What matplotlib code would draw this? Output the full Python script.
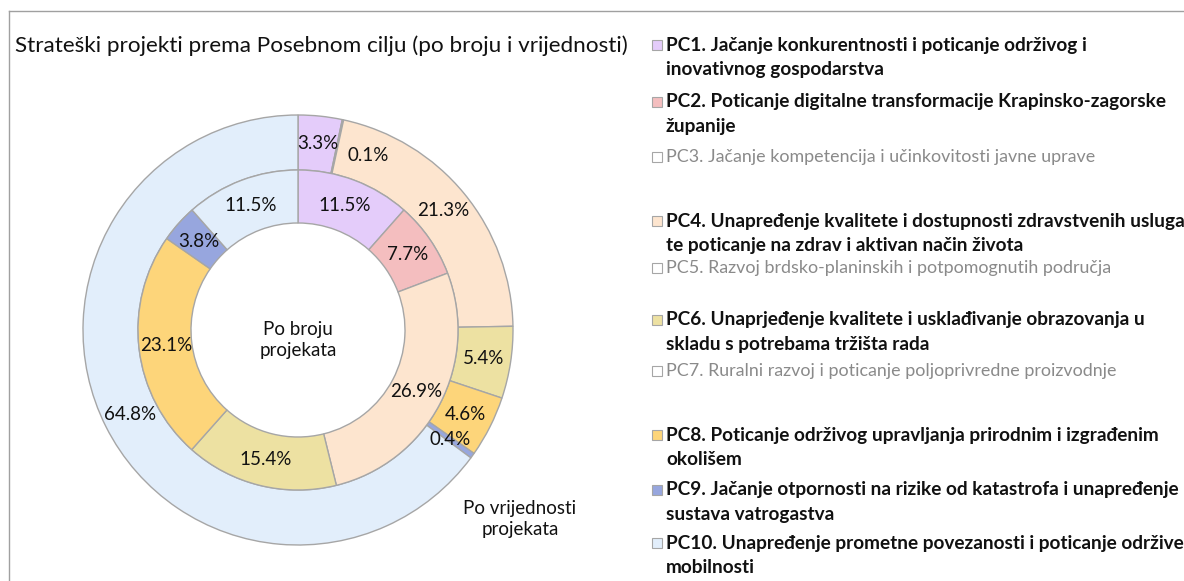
import numpy as np
import matplotlib
matplotlib.use("Agg")
import matplotlib.pyplot as plt
from matplotlib.patches import Rectangle
from matplotlib.lines import Line2D

# data
ring_codes = ['PC1', 'PC2', 'PC4', 'PC6', 'PC8', 'PC9', 'PC10']
by_count = [11.5, 7.7, 26.9, 15.4, 23.1, 3.8, 11.5]
by_value = [3.3, 0.1, 21.3, 5.4, 4.6, 0.4, 64.8]

legend_codes = ['PC1', 'PC2', 'PC3', 'PC4', 'PC5', 'PC6', 'PC7', 'PC8', 'PC9', 'PC10']
legend_labels = [
    'PC1. Jačanje konkurentnosti i poticanje održivog i\ninovativnog gospodarstva',
    'PC2. Poticanje digitalne transformacije Krapinsko-zagorske\nžupanije',
    'PC3. Jačanje kompetencija i učinkovitosti javne uprave',
    'PC4. Unapređenje kvalitete i dostupnosti zdravstvenih usluga\nte poticanje na zdrav i aktivan način života',
    'PC5. Razvoj brdsko-planinskih i potpomognutih područja',
    'PC6. Unaprjeđenje kvalitete i usklađivanje obrazovanja u\nskladu s potrebama tržišta rada',
    'PC7. Ruralni razvoj i poticanje poljoprivredne proizvodnje',
    'PC8. Poticanje održivog upravljanja prirodnim i izgrađenim\nokolišem',
    'PC9. Jačanje otpornosti na rizike od katastrofa i unapređenje\nsustava vatrogastva',
    'PC10. Unapređenje prometne povezanosti i poticanje održive\nmobilnosti',
]

colors = {
    'PC1': '#E4CCFA', 'PC2': '#F4BEBF', 'PC3': '#FFFFFF', 'PC4': '#FDE5CF',
    'PC5': '#FFFFFF', 'PC6': '#EDE1A2', 'PC7': '#FFFFFF', 'PC8': '#FDD57A',
    'PC9': '#97A6DE', 'PC10': '#E2EEFB',
}
has_data = [c in ring_codes for c in legend_codes]

FONT = 'Lato'
EDGE = '#A6A6A6'
W, H = 1184, 581

fig = plt.figure(figsize=(W / 100, H / 100), dpi=100)

# outer frame of the chart area (only top and left visible in crop)
fig.add_artist(Line2D([9 / W, 9 / W], [0, 1 - 11 / H], transform=fig.transFigure,
                      color='#A0A0A0', lw=1.0))
fig.add_artist(Line2D([9 / W, 1], [1 - 11 / H, 1 - 11 / H], transform=fig.transFigure,
                      color='#A0A0A0', lw=1.0))

# donut: centre (298, 330) px, outer radius 215 px
cx, cy, R = 298, 330, 215
half = 230
ax = fig.add_axes([(cx - half) / W, (H - cy - half) / H, 2 * half / W, 2 * half / H])

wprops = dict(edgecolor=EDGE, linewidth=1.0)
outer, _ = ax.pie(by_value, radius=1.0, startangle=90, counterclock=False,
                  colors=[colors[c] for c in ring_codes],
                  wedgeprops=dict(width=55 / R, **wprops))
inner, _ = ax.pie(by_count, radius=160 / R, startangle=90, counterclock=False,
                  colors=[colors[c] for c in ring_codes],
                  wedgeprops=dict(width=53 / R, **wprops))
ax.set_xlim(-half / R, half / R)
ax.set_ylim(-half / R, half / R)
ax.set_aspect('equal')
ax.axis('off')

# small-slice labels nudged along the ring (degrees, clockwise)
outer_shift = {1: -10}


def put_labels(wedges, values, r, shifts):
    for i, (w, v) in enumerate(zip(wedges, values)):
        ang = np.deg2rad((w.theta1 + w.theta2) / 2 + shifts.get(i, 0))
        ax.text(r * np.cos(ang), r * np.sin(ang), f'{v:.1f}%', ha='center', va='center',
                fontsize=13.5, family=FONT, color='#111111')


put_labels(outer, by_value, 188 / R, outer_shift)
put_labels(inner, by_count, 133 / R, {})

ax.text(0, -10 / R, 'Po broju\nprojekata', ha='center', va='center', fontsize=13.5,
        family=FONT, color='#111111', linespacing=1.3)
ax.text(222 / R, -189 / R, 'Po vrijednosti\nprojekata', ha='center', va='center',
        fontsize=13.5, family=FONT, color='#111111', linespacing=1.3, clip_on=False)

# title
fig.text(15 / W, 1 - 46 / H, 'Strateški projekti prema Posebnom cilju (po broju i vrijednosti)',
         ha='left', va='center', fontsize=16.2, family=FONT, color='#111111')

# legend, drawn by hand to follow the original spacing
legend_y = [45, 102, 157, 221, 268, 320, 371, 435, 490, 543]
line_gap = 24.5
for code, label, y, filled in zip(legend_codes, legend_labels, legend_y, has_data):
    fig.add_artist(Rectangle((652 / W, 1 - (y + 5) / H), 10 / W, 10 / H,
                             transform=fig.transFigure, facecolor=colors[code],
                             edgecolor='#A6A6A6', lw=0.8))
    for k, line in enumerate(label.split('\n')):
        fig.text(666 / W, 1 - (y + k * line_gap) / H, line, ha='left', va='center',
                 fontsize=13.7 if filled else 12.9, family=FONT,
                 fontweight='bold' if filled else 'normal',
                 color='#111111' if filled else '#8A8A8A')

fig.savefig('out.png', dpi=100, facecolor='white')
